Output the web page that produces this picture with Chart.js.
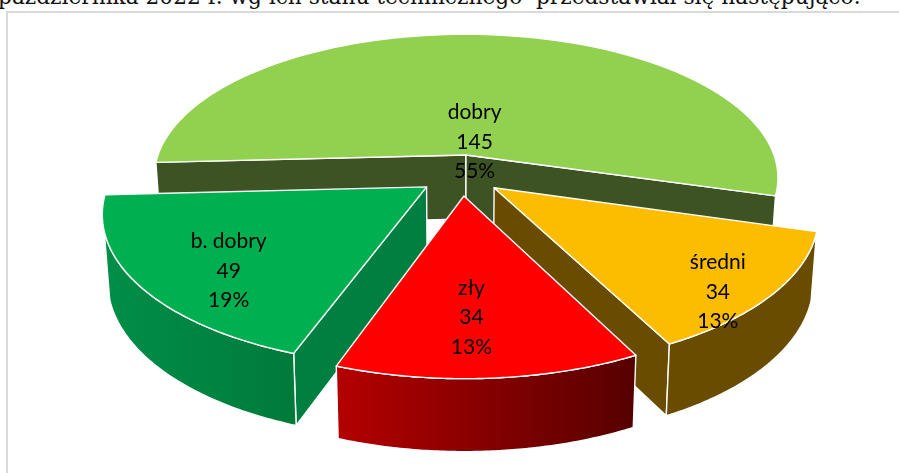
<!DOCTYPE html>
<html lang="pl"><head><meta charset="utf-8">
<style>
html,body{margin:0;padding:0;background:#fff;width:899px;height:473px;overflow:hidden}
#frame{position:absolute;left:6px;top:11px;width:1000px;height:1000px;border:2px solid #D9D9D9;box-sizing:border-box}
#cap{position:absolute;left:-2px;top:-17px;line-height:27px;white-space:pre;font-family:"DejaVu Serif",serif;font-size:21.7px;color:#111}
#wrap{position:absolute;left:0;top:0;width:899px;height:473px}
</style>
<script src="https://cdn.jsdelivr.net/npm/chart.js@4"></script>
</head><body>
<div id="frame"></div>
<div id="cap">października 2022 r. wg ich stanu technicznego  przedstawiał się następująco:</div>
<div id="wrap"><canvas id="c" width="899" height="473"></canvas></div>
<script>
const categories = ['dobry', 'średni', 'zły', 'b. dobry'];
const counts = [145, 34, 34, 49];
const topColors = ['#92D050', '#FCBD00', '#FF0000', '#00B050'];
const wallStart = ['#3F5323', '#6A4C00', '#B40000', '#008E48'];
const wallEnd = ['#3A5224', '#6A4C00', '#560000', '#007A3A'];
const radialWall = ['#3D5323', '#6A4C00', '#8A0000', '#008040'];
const sliceOffsets = [23, 22, 23, 22];
const drawOrder = [0, 1, 3, 2];
const labelRadius = [0.10, 0.88, 0.705, 0.76];
const labelTurnDeg = [10, 5.7, 2.1, -5.9];

const view = { sx: 1.926, sy: 0.893, p: 0.16, shrink: 0.985, depth: 65, depthFront: 7, wallFrom: 0.28 };

const pie3d = {
  id: 'pie3d',
  beforeDatasetsDraw(chart) {
    const ctx = chart.ctx, arcs = chart.getDatasetMeta(0).data;
    const total = counts.reduce((a, b) => a + b, 0);
    const project = (arc, u, v, low) => {
      const s = 1 / (1 - view.p * v), R = arc.outerRadius;
      const x = u * R * view.sx * s, y = v * R * view.sy * s;
      if (!low) return [arc.x + x, arc.y + y];
      return [arc.x + x * view.shrink, arc.y + y + view.depth + view.depthFront * v];
    };
    const shape = (pts) => {
      ctx.beginPath();
      pts.forEach((p, i) => i ? ctx.lineTo(p[0], p[1]) : ctx.moveTo(p[0], p[1]));
      ctx.closePath();
    };
    const stroke = () => {
      ctx.strokeStyle = '#fff'; ctx.lineWidth = 1.4; ctx.lineJoin = 'round'; ctx.stroke();
    };
    const area = (pts) => {
      let a = 0;
      pts.forEach((p, i) => { const q = pts[(i + 1) % pts.length]; a += p[0] * q[1] - q[0] * p[1]; });
      return a;
    };
    drawOrder.forEach((i) => {
      const arc = arcs[i], a0 = arc.startAngle, a1 = arc.endAngle, mid = (a0 + a1) / 2;
      const e = arc.options.offset / arc.outerRadius;
      const ox = e * Math.cos(mid), oy = e * Math.sin(mid);
      const rim = (a) => [ox + Math.cos(a), oy + Math.sin(a)];
      const N = 90, samples = [];
      for (let k = 0; k <= N; k++) samples.push(a0 + (a1 - a0) * k / N);
      const apexT = project(arc, ox, oy, false), apexB = project(arc, ox, oy, true);
      const t0 = project(arc, ...rim(a0), false), b0 = project(arc, ...rim(a0), true);
      const t1 = project(arc, ...rim(a1), false), b1 = project(arc, ...rim(a1), true);
      // radial walls, only those turned to the viewer
      [[apexT, t0, b0, apexB], [t1, apexT, apexB, b1]].forEach((w) => {
        if (area(w) < 0) { shape(w); ctx.fillStyle = radialWall[i]; ctx.fill(); stroke(); }
      });
      // outer wall, front-facing runs only
      let run = [];
      const flush = () => {
        if (run.length > 1) {
          const top = run.map((a) => project(arc, ...rim(a), false));
          const low = run.map((a) => project(arc, ...rim(a), true)).reverse();
          const xs = top.concat(low).map((p) => p[0]);
          const g = ctx.createLinearGradient(Math.min(...xs), 0, Math.max(...xs), 0);
          g.addColorStop(0, wallStart[i]); g.addColorStop(1, wallEnd[i]);
          shape(top.concat(low)); ctx.fillStyle = g; ctx.fill(); stroke();
        }
        run = [];
      };
      samples.forEach((a) => { if (Math.sin(a) > view.wallFrom) run.push(a); else flush(); });
      flush();
      // top face
      shape([apexT].concat(samples.map((a) => project(arc, ...rim(a), false))));
      ctx.fillStyle = topColors[i]; ctx.fill(); stroke();
    });
    // data labels
    ctx.fillStyle = '#000'; ctx.font = '21px Lato, sans-serif';
    ctx.textAlign = 'center'; ctx.textBaseline = 'middle';
    arcs.forEach((arc, i) => {
      const mid = (arc.startAngle + arc.endAngle) / 2, e = arc.options.offset / arc.outerRadius;
      const a = mid + labelTurnDeg[i] * Math.PI / 180;
      const p = project(arc, e * Math.cos(mid) + labelRadius[i] * Math.cos(a), e * Math.sin(mid) + labelRadius[i] * Math.sin(a), false);
      [categories[i], String(counts[i]), Math.round(counts[i] / total * 100) + '%'].forEach((t, k) => {
        ctx.fillText(t, p[0], p[1] + (k - 1) * 29.5);
      });
    });
    return false;
  }
};

new Chart(document.getElementById('c'), {
  type: 'pie',
  data: { labels: categories, datasets: [{ data: counts, backgroundColor: topColors, offset: sliceOffsets, borderWidth: 0 }] },
  options: {
    responsive: false, animation: false, rotation: 267,
    layout: { padding: { left: 23, bottom: 123 } },
    plugins: { legend: { display: false }, tooltip: { enabled: false } }
  },
  plugins: [pie3d]
});
</script>
</body></html>
